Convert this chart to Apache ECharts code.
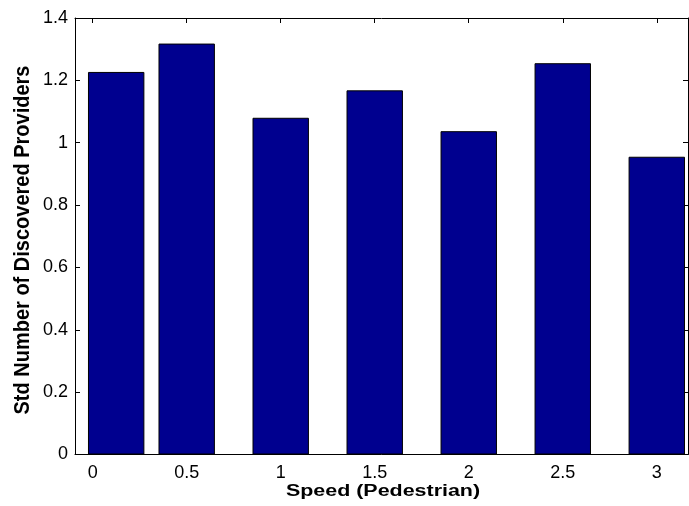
<!DOCTYPE html>
<html>
<head>
<meta charset="utf-8">
<script src="https://cdn.jsdelivr.net/npm/echarts@6/dist/echarts.min.js"></script>
<style>
  html, body { margin: 0; padding: 0; background: #fff; }
  #chart { width: 689px; height: 506px; }
</style>
</head>
<body>
<div id="chart"></div>
<script>
// Pedestrian speeds where each bar sits, and the std of discovered providers
const speeds = [0.125, 0.5, 1, 1.5, 2, 2.5, 3];
const stdProviders = [1.227, 1.318, 1.080, 1.168, 1.037, 1.255, 0.955];
// Tick positions along the speed axis
const xTicks = [0, 0.5, 1, 1.5, 2, 2.5, 3];

const xMin = -0.094, xMax = 3.166;
const barUnits = 0.3; // bar width in axis units

const gridLeft = 75, gridRight = 1, gridTop = 18, gridBottom = 51.5;
const W = 689, H = 506;
const gridW = W - gridLeft - gridRight;
const barPx = barUnits * gridW / (xMax - xMin);

const font = '"Liberation Sans", Arial, sans-serif';
const axisLine = { show: true, onZero: false, lineStyle: { color: '#000', width: 1 } };
const tick = { show: true, inside: true, length: 5, lineStyle: { color: '#000', width: 1 } };

const chart = echarts.init(document.getElementById('chart'));
chart.setOption({
  animation: false,
  backgroundColor: '#fff',
  grid: { left: gridLeft, right: gridRight, top: gridTop, bottom: gridBottom },
  xAxis: [
    {
      type: 'value', position: 'bottom', min: xMin, max: xMax,
      axisLine: axisLine,
      axisTick: Object.assign({ customValues: xTicks }, tick),
      axisLabel: { customValues: xTicks, color: '#000', fontFamily: font, fontSize: 18, margin: 10,
                   formatter: v => String(v) },
      splitLine: { show: false }
    },
    {
      type: 'value', position: 'top', min: xMin, max: xMax,
      axisLine: axisLine,
      axisTick: Object.assign({ customValues: xTicks }, tick),
      axisLabel: { show: false },
      splitLine: { show: false }
    }
  ],
  yAxis: [
    {
      type: 'value', position: 'left', min: 0, max: 1.4, interval: 0.2,
      axisLine: axisLine,
      axisTick: tick,
      axisLabel: { color: '#000', fontFamily: font, fontSize: 18, margin: 7,
                   formatter: v => String(Math.round(v * 10) / 10) },
      splitLine: { show: false }
    },
    {
      type: 'value', position: 'right', min: 0, max: 1.4, interval: 0.2,
      axisLine: axisLine,
      axisTick: tick,
      axisLabel: { show: false },
      splitLine: { show: false }
    }
  ],
  graphic: [
    {
      type: 'text', x: 383, y: 491.5, scaleX: 1.34,
      style: { text: 'Speed (Pedestrian)', fill: '#000', font: 'bold 16px ' + font,
               align: 'center', verticalAlign: 'middle' }
    },
    {
      type: 'text', x: 23, y: 240, rotation: Math.PI / 2, scaleY: 1.12,
      style: { text: 'Std Number of Discovered Providers', fill: '#000',
               font: 'bold 20px ' + font, align: 'center', verticalAlign: 'middle' }
    }
  ],
  series: [{
    type: 'bar',
    xAxisIndex: 0, yAxisIndex: 0,
    data: speeds.map((s, i) => [s, stdProviders[i]]),
    barWidth: barPx,
    itemStyle: { color: '#00008f', borderColor: '#000', borderWidth: 1 }
  }]
});
</script>
</body>
</html>
